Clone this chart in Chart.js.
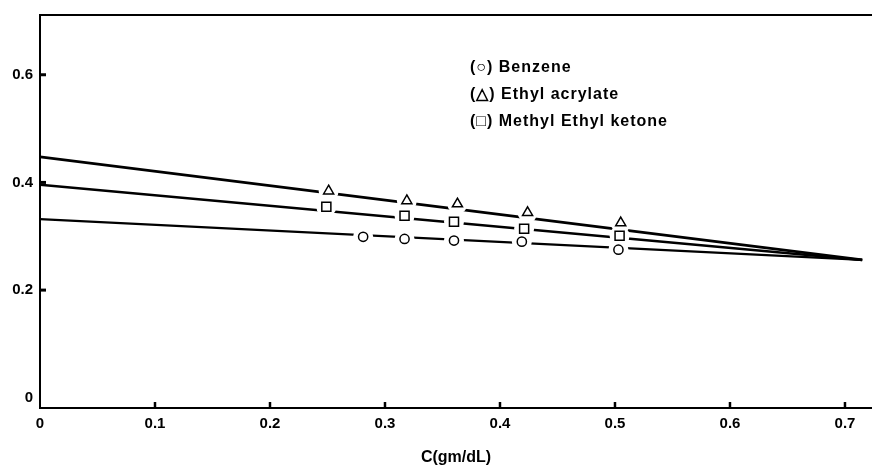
<!DOCTYPE html>
<html>
<head>
<meta charset="utf-8">
<script src="https://cdn.jsdelivr.net/npm/chart.js@4.4.0/dist/chart.umd.min.js"></script>
<style>
  html, body { margin: 0; padding: 0; background: #fff; }
  #wrap { width: 872px; height: 467px; }
</style>
</head>
<body>
<div id="wrap"><canvas id="chart" width="872" height="467"></canvas></div>
<script>
// measured points, C in gm/dL
const benzeneX = [0.281, 0.317, 0.360, 0.419, 0.503];
const benzeneY = [0.299, 0.295, 0.292, 0.290, 0.275];
const acrylateX = [0.251, 0.319, 0.363, 0.424, 0.505];
const acrylateY = [0.384, 0.366, 0.360, 0.344, 0.325];
const mekX = [0.249, 0.317, 0.360, 0.421, 0.504];
const mekY = [0.355, 0.338, 0.327, 0.314, 0.301];

// straight fits, run back to C = 0
const fitX = [0, 0.715];
const benzeneFit = [0.332, 0.256];
const acrylateFit = [0.4475, 0.256];
const mekFit = [0.3955, 0.256];

const xTicks = [0, 0.1, 0.2, 0.3, 0.4, 0.5, 0.6, 0.7];
const yTicks = [0, 0.2, 0.4, 0.6];
const legendLabels = ['(\u25CB) Benzene', '(\u25B3) Ethyl acrylate', '(\u25A1) Methyl Ethyl ketone'];

const FONT = '"Liberation Sans", Arial, sans-serif';

function pts(xs, ys) { return xs.map((x, i) => ({ x: x, y: ys[i] })); }

function fitLine(ys, width) {
  return {
    type: 'line', data: pts(fitX, ys), borderColor: '#000', borderWidth: width,
    pointRadius: 0, fill: false, order: 3
  };
}
// white patch so the fitted line is broken round each symbol
function halo(xs, ys) {
  return {
    type: 'scatter', data: pts(xs, ys), pointRadius: 10, pointBorderWidth: 0,
    pointBackgroundColor: '#fff', pointBorderColor: '#fff', order: 2
  };
}
function marks(xs, ys, style, r) {
  return {
    type: 'scatter', data: pts(xs, ys), pointStyle: style, pointRadius: r,
    pointBackgroundColor: '#fff', pointBorderColor: '#000', pointBorderWidth: 1.5, order: 1
  };
}

const framePlugin = {
  id: 'frame',
  afterDatasetsDraw(chart) {
    const ctx = chart.ctx, a = chart.chartArea;
    const xs = chart.scales.x, ys = chart.scales.y;
    ctx.save();
    ctx.strokeStyle = '#000';
    ctx.lineWidth = 2;
    ctx.beginPath();
    ctx.moveTo(a.left, a.top);
    ctx.lineTo(a.right, a.top);
    ctx.stroke();
    // inward ticks
    ctx.lineWidth = 3;
    yTicks.slice(1).forEach(v => {
      const y = ys.getPixelForValue(v);
      ctx.beginPath(); ctx.moveTo(a.left, y); ctx.lineTo(a.left + 6, y); ctx.stroke();
    });
    ctx.lineWidth = 2.5;
    xTicks.slice(1).forEach(v => {
      const x = xs.getPixelForValue(v);
      ctx.beginPath(); ctx.moveTo(x, a.bottom); ctx.lineTo(x, a.bottom - 6); ctx.stroke();
    });
    // key
    ctx.fillStyle = '#000';
    ctx.font = 'bold 16px ' + FONT;
    ctx.letterSpacing = '1px';
    ctx.textBaseline = 'middle';
    legendLabels.forEach((t, i) => ctx.fillText(t, 470, 68 + i * 27));
    ctx.restore();
  }
};

new Chart(document.getElementById('chart'), {
  data: {
    datasets: [
      fitLine(acrylateFit, 2.8),
      fitLine(mekFit, 2.5),
      fitLine(benzeneFit, 2.2),
      halo(acrylateX, acrylateY),
      halo(mekX, mekY),
      halo(benzeneX, benzeneY),
      marks(acrylateX, acrylateY, 'triangle', 5.8),
      marks(mekX, mekY, 'rect', 6.4),
      marks(benzeneX, benzeneY, 'circle', 4.6)
    ]
  },
  options: {
    responsive: false,
    animation: false,
    layout: { autoPadding: false, padding: { top: 15, right: 0, left: 0, bottom: 0 } },
    plugins: { legend: { display: false }, tooltip: { enabled: false } },
    scales: {
      x: {
        type: 'linear', min: 0, max: 0.7235,
        afterBuildTicks: s => { s.ticks = xTicks.map(v => ({ value: v })); },
        afterFit: s => { s.height = 59; s.paddingLeft = 0; s.paddingRight = 0; },
        grid: { display: false, drawTicks: false },
        border: { display: true, color: '#000', width: 2 },
        ticks: { color: '#000', padding: 7, font: { family: FONT, size: 15, weight: 'bold' }, callback: v => String(v) },
        title: { display: true, text: 'C(gm/dL)', color: '#000', font: { family: FONT, size: 16, weight: 'bold' }, padding: { top: 0, bottom: 0 } }
      },
      y: {
        type: 'linear', min: -0.019, max: 0.711,
        afterBuildTicks: s => { s.ticks = yTicks.map(v => ({ value: v })); },
        afterFit: s => { s.width = 40; s.paddingTop = 0; s.paddingBottom = 0; },
        grid: { display: false, drawTicks: false },
        border: { display: true, color: '#000', width: 2 },
        ticks: { color: '#000', padding: 7, font: { family: FONT, size: 15, weight: 'bold' }, callback: v => String(v) }
      }
    }
  },
  plugins: [framePlugin]
});
</script>
</body>
</html>
